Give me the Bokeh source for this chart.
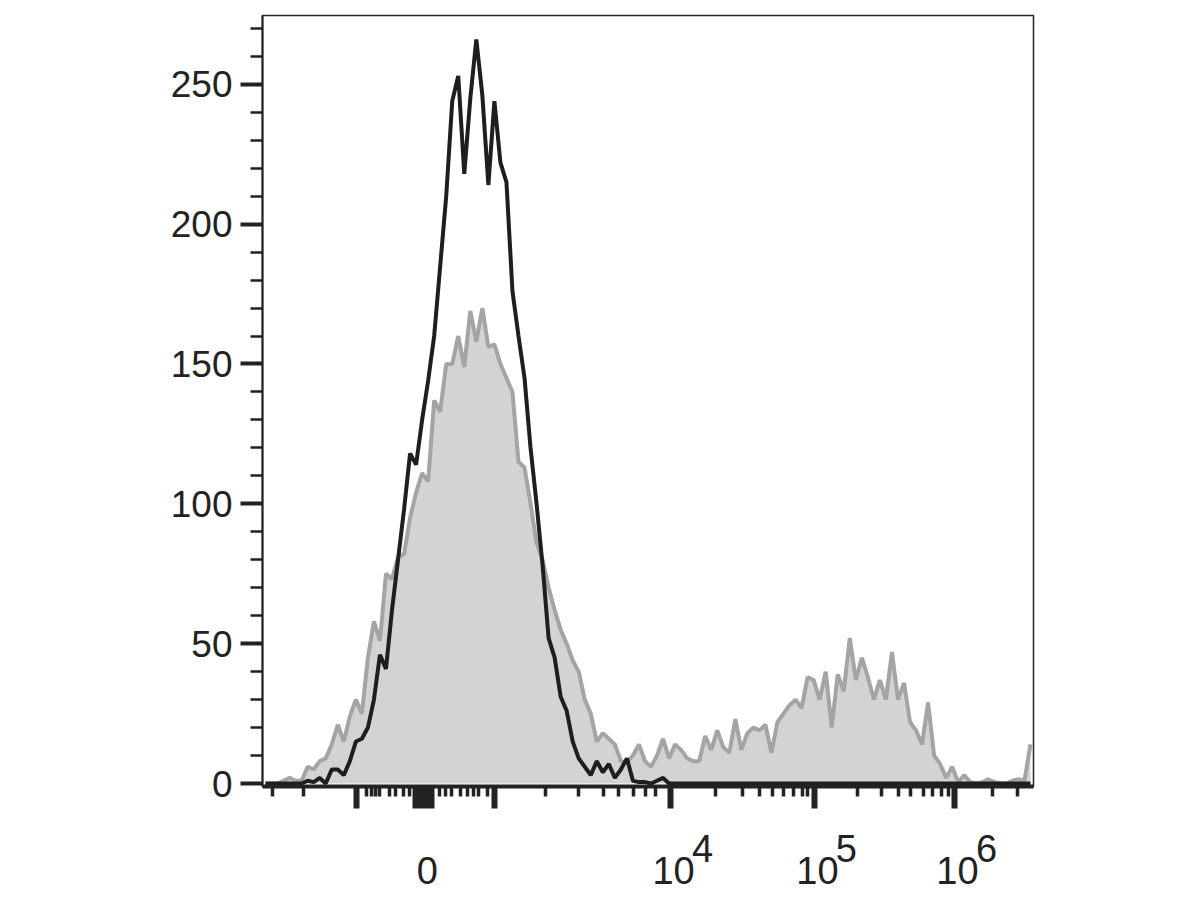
from bokeh.plotting import figure
from bokeh.models import Range1d, FixedTicker, LinearAxis
from bokeh.embed import file_html
from bokeh.resources import INLINE

# Display channels of the biexponential axis (0-1024), one bin every 8 channels
channels = [8 * i + 4 for i in range(128)]

# Grey filled histogram (stained sample)
stained = [
    0, 0, 0, 1, 2, 1, 1, 6, 5, 8,
    9, 14, 21, 15, 24, 30, 25, 45, 58, 51,
    75, 73, 81, 82, 95, 104, 111, 108, 137, 133,
    150, 150, 160, 149, 169, 158, 170, 156, 157, 150,
    145, 140, 115, 113, 100, 86, 80, 70, 62, 55,
    50, 44, 40, 30, 25, 15, 18, 16, 14, 8,
    7.5, 10, 14, 8, 6, 10, 16, 9, 14, 12,
    9, 8, 8, 17, 12, 19, 13, 11, 23, 12,
    18, 20, 19, 21, 11, 22, 25, 28, 30, 27,
    38, 37, 30, 40, 20, 39, 33, 52, 37, 45,
    38, 30, 37, 30, 47, 30, 36, 22, 19, 14,
    29, 10, 7, 2, 6, 0.5, 3, 0.5, 0, 0.5,
    1.5, 0.5, 0, 0, 1, 1.5, 1, 14,
]

# Black outline histogram (unstained control)
unstained = [
    0, 0, 0, 0, 0, 0, 0, 1, 0.5, 2,
    0, 5, 5, 3, 8, 15, 16, 20, 30, 46,
    41, 62, 80, 98, 118, 114, 130, 144, 160, 185,
    210, 244, 253, 218, 245, 266, 246, 214, 244, 222,
    215, 176, 160, 145, 120, 100, 78, 52, 45, 31,
    26, 15, 9, 6, 3, 8, 4, 7, 2, 5,
    9, 1, 0.5, 0.5, 0, 1, 2, 0, 0, 0,
    0, 0, 0, 0, 0, 0, 0, 0, 0, 0,
    0, 0, 0, 0, 0, 0, 0, 0, 0, 0,
    0, 0, 0, 0, 0, 0, 0, 0, 0, 0,
    0, 0, 0, 0, 0, 0, 0, 0, 0, 0,
    0, 0, 0, 0, 0, 0, 0, 0, 0, 0,
    0, 0, 0, 0, 0, 0, 0, 0,
]

# Axis ticks (channels)
x_major = [125, 203, 208.5, 214, 219, 224.5, 308, 542, 733, 919]
x_minor = [13, 54.5, 138, 145, 150, 155.5, 168.5, 176.5, 187.5, 195, 235, 243, 251,
           263, 272, 280, 287, 299, 376, 420, 453, 473, 493, 509, 522, 601.5, 637.5,
           660, 677, 692, 705, 717, 724, 790, 822, 845, 860.5, 878, 890, 902, 911,
           969.5, 1002.5]
zero_tick = 219
decade_ticks = [542, 733, 919]
decade_exponents = ["4", "5", "6"]

y_major = [0, 50, 100, 150, 200, 250]
y_minor = [v for v in range(0, 280, 10) if v % 50 != 0]

ink = "#222222"
font = "Liberation Sans"
px_to_ch = 1024 / 771  # channels per screen pixel on this frame

p = figure(frame_width=771, frame_height=771,
           x_range=Range1d(0, 1024), y_range=Range1d(-1.07, 274.6),
           output_backend="svg", toolbar_location=None,
           min_border_left=262, min_border_top=15, min_border_right=140,
           min_border_bottom=112)
p.grid.visible = False
p.background_fill_color = "white"
p.border_fill_color = "white"
p.outline_line_color = "#222222"
p.outline_line_width = 1.5

p.varea(x=channels, y1=0, y2=stained, fill_color="#d3d3d3")
p.line(channels, stained, line_color="#a4a4a4", line_width=4)
p.line(channels, unstained, line_color="#1e1e1e", line_width=4)

xa = p.xaxis[0]
xa.ticker = FixedTicker(ticks=x_major, minor_ticks=x_minor)
xa.major_label_overrides = {t: "" for t in x_major}
xa.major_label_text_font_size = "0px"
xa.major_label_standoff = 0
xa.axis_line_width = 4
xa.axis_line_color = ink
xa.major_tick_in = 0
xa.major_tick_out = 22
xa.major_tick_line_width = 6
xa.major_tick_line_color = ink
xa.minor_tick_in = 0
xa.minor_tick_out = 10
xa.minor_tick_line_width = 3.5
xa.minor_tick_line_color = ink

# exponent row of the decade labels
exp_pos = [t + 32 * px_to_ch for t in decade_ticks]
exp_axis = LinearAxis(
    ticker=FixedTicker(ticks=exp_pos, minor_ticks=[]),
    major_label_overrides={pos: e for pos, e in zip(exp_pos, decade_exponents)},
    axis_line_color=None, major_tick_line_color=None, minor_tick_line_color=None,
    major_tick_out=0, major_tick_in=0, minor_tick_out=0, minor_tick_in=0,
    major_label_standoff=26, major_label_text_font=font,
    major_label_text_font_size="38px", major_label_text_color=ink)
p.add_layout(exp_axis, "below")

# base row: "0" and "10"
base_pos = [zero_tick] + [t + 3 * px_to_ch for t in decade_ticks]
base_text = ["0"] + ["10"] * len(decade_ticks)
base_axis = LinearAxis(
    ticker=FixedTicker(ticks=base_pos, minor_ticks=[]),
    major_label_overrides={pos: s for pos, s in zip(base_pos, base_text)},
    axis_line_color=None, major_tick_line_color=None, minor_tick_line_color=None,
    major_tick_out=0, major_tick_in=0, minor_tick_out=0, minor_tick_in=0,
    major_label_standoff=-8, major_label_text_font=font,
    major_label_text_font_size="38px", major_label_text_color=ink)
p.add_layout(base_axis, "below")

ya = p.yaxis[0]
ya.ticker = FixedTicker(ticks=y_major, minor_ticks=y_minor)
ya.axis_line_width = 2
ya.axis_line_color = ink
ya.major_tick_in = 0
ya.major_tick_out = 22
ya.major_tick_line_width = 4
ya.major_tick_line_color = ink
ya.minor_tick_in = 0
ya.minor_tick_out = 12
ya.minor_tick_line_width = 2.5
ya.minor_tick_line_color = ink
ya.major_label_text_font = "Liberation Sans"
ya.major_label_text_font_size = "37px"
ya.major_label_text_color = ink
ya.major_label_standoff = 8

open("out.html", "w").write(file_html(p, INLINE))
